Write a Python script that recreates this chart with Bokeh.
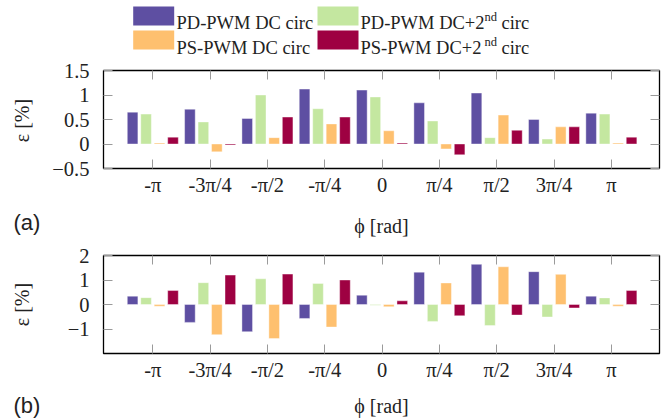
from math import pi
from bokeh.plotting import figure
from bokeh.models import (ColumnDataSource, Range1d, FixedTicker, LinearAxis,
                          CustomJSTickFormatter)
from bokeh.transform import dodge
from bokeh.layouts import column, row
from bokeh.core.properties import value
from bokeh.embed import file_html
from bokeh.resources import INLINE

# ---------------- data ----------------
phi_labels = ["-π", "-3π/4", "-π/2", "-π/4", "0", "π/4", "π/2", "3π/4", "π"]
series_names = ["PD-PWM DC circ", "PD-PWM DC+2nd circ", "PS-PWM DC circ", "PS-PWM DC+2nd circ"]
colors = ["#5e4fa2", "#c4e7a0", "#fec06f", "#9e0142"]

# (a)
a_pd_dc = [0.65, 0.71, 0.52, 1.12, 1.10, 0.84, 1.04, 0.50, 0.63]
a_pd_dc2 = [0.61, 0.45, 1.00, 0.72, 0.96, 0.47, 0.13, 0.10, 0.61]
a_ps_dc = [0.02, -0.16, 0.13, 0.41, 0.27, -0.10, 0.59, 0.35, 0.02]
a_ps_dc2 = [0.14, -0.02, 0.55, 0.55, 0.02, -0.22, 0.28, 0.35, 0.14]

# (b)
b_pd_dc = [0.34, -0.73, -1.11, -0.57, 0.38, 1.32, 1.64, 1.34, 0.34]
b_pd_dc2 = [0.28, 0.89, 1.05, 0.86, -0.03, -0.69, -0.86, -0.51, 0.27]
b_ps_dc = [-0.07, -1.23, -1.39, -0.92, -0.09, 0.88, 1.54, 1.23, -0.07]
b_ps_dc2 = [0.57, 1.20, 1.24, 1.00, 0.15, -0.46, -0.43, -0.14, 0.57]

a_ticks = [-0.5, 0, 0.5, 1, 1.5]
a_tick_labels = ["−0.5", "0", "0.5", "1", "1.5"]
b_ticks = [-1, 0, 1, 2]
b_tick_labels = ["−1", "0", "1", "2"]

x_label = "ϕ [rad]"
y_label = "ε [%]"
panel_tags = ["(a)", "(b)"]

SERIF = "Liberation Serif"
SANS = "Liberation Sans"
TXT = "#222222"
STRIP_W = 43
COL_W = 622
LEG_H = 58
offsets = [-0.3525, -0.1175, 0.1175, 0.3525]
bar_w = 0.185
BLANK = CustomJSTickFormatter(code="return ''")


def make_panel(series, yr, ticks, tick_labels, height, top_border, bottom_border, label_standoff):
    xs = list(range(len(phi_labels)))
    data = dict(x=xs)
    for i, s in enumerate(series):
        data["s%d" % i] = s
    src = ColumnDataSource(data)
    p = figure(width=COL_W, height=height, output_backend="svg", toolbar_location=None,
               x_range=Range1d(-0.86, 8.84), y_range=Range1d(*yr),
               min_border_left=60, min_border_right=6, min_border_top=top_border,
               min_border_bottom=bottom_border, background_fill_color="white",
               border_fill_color="white")
    p.grid.visible = False
    p.outline_line_color = "black"
    p.outline_line_width = 1.3
    for i in range(4):
        p.vbar(x=dodge("x", offsets[i]), top="s%d" % i, bottom=0, width=bar_w,
               source=src, fill_color=colors[i], line_color="white",
               line_alpha=0.5, line_width=0.8)
    xa = p.xaxis[0]
    xa.ticker = FixedTicker(ticks=xs)
    xa.major_label_overrides = {x: l for x, l in zip(xs, phi_labels)}
    ya = p.yaxis[0]
    ya.ticker = FixedTicker(ticks=ticks)
    ya.major_label_overrides = {t: l for t, l in zip(ticks, tick_labels)}
    for ax in (xa, ya):
        ax.axis_line_color = None
        ax.major_tick_in = 9
        ax.major_tick_out = 0
        ax.minor_tick_line_color = None
        ax.major_tick_line_color = "#9a9a9a"
        ax.major_label_text_font = SERIF
        ax.major_label_text_font_size = "20.5px"
        ax.major_label_text_color = TXT
    xa.major_label_standoff = 5
    ya.major_label_standoff = 14
    xa.axis_label = x_label
    xa.axis_label_text_font = SERIF
    xa.axis_label_text_font_size = "20px"
    xa.axis_label_text_font_style = "normal"
    xa.axis_label_text_color = TXT
    xa.axis_label_standoff = label_standoff
    # mirrored ticks (top / right), no labels
    top_ax = LinearAxis(ticker=FixedTicker(ticks=xs), formatter=BLANK)
    right_ax = LinearAxis(ticker=FixedTicker(ticks=ticks), formatter=BLANK)
    for ax in (top_ax, right_ax):
        ax.axis_line_color = None
        ax.major_tick_in = 9
        ax.major_tick_out = 0
        ax.minor_tick_line_color = None
        ax.major_tick_line_color = "#9a9a9a"
        ax.major_label_standoff = 0
    p.add_layout(top_ax, "above")
    p.add_layout(right_ax, "right")
    return p


# ---------------- legend ----------------
lg = figure(width=COL_W, height=LEG_H, output_backend="svg", toolbar_location=None,
            x_range=Range1d(103, 659), y_range=Range1d(LEG_H, 0),
            x_axis_type=None, y_axis_type=None, min_border_left=60, min_border_right=6,
            min_border_top=0, min_border_bottom=0)
lg.grid.visible = False
lg.outline_line_color = None
sw_left = [132.7, 317, 132.7, 317]
sw_top = [6, 6, 30, 30]
lg_src = ColumnDataSource(dict(
    left=sw_left, right=[l + 41 for l in sw_left], top=sw_top,
    bottom=[t + 19 for t in sw_top], color=[colors[0], colors[1], colors[2], colors[3]]))
lg.quad(left="left", right="right", top="top", bottom="bottom", fill_color="color",
        line_color=None, source=lg_src)
base = [22.7, 22.7, 47.3, 47.3]
tx = [176, 360, 176, 360]
main_txt = ["PD-PWM DC circ", "PD-PWM DC+2", "PS-PWM DC circ", "PS-PWM DC+2"]
lg.text(x=tx, y=base, text=main_txt, text_font=value(SERIF), text_font_size="18.5px",
        text_baseline="alphabetic", text_align="left", text_color=TXT)
lg.text(x=[484, 484], y=[base[1] - 6, base[3] - 6], text=["nd", "nd"], text_font=value(SERIF),
        text_font_size="12.5px", text_baseline="alphabetic", text_align="left", text_color=TXT)
lg.text(x=[501, 501], y=[base[1], base[3]], text=["circ", "circ"], text_font=value(SERIF),
        text_font_size="18.5px", text_baseline="alphabetic", text_align="left", text_color=TXT)

pa = make_panel([a_pd_dc, a_pd_dc2, a_ps_dc, a_ps_dc2], (-0.5, 1.5), a_ticks, a_tick_labels,
                182, 12, 72, 16)
pb = make_panel([b_pd_dc, b_pd_dc2, b_ps_dc, b_ps_dc2], (-2, 2), b_ticks, b_tick_labels,
                179, 15, 66, 11)

# ---------------- left strip (y labels and panel tags) ----------------
st = figure(width=STRIP_W, height=419, output_backend="svg", toolbar_location=None,
            x_range=Range1d(0, STRIP_W), y_range=Range1d(419, 0),
            x_axis_type=None, y_axis_type=None, min_border=0)
st.grid.visible = False
st.outline_line_color = None
st.text(x=[21.5, 21.5], y=[120, 304], text=[y_label, y_label], angle=pi / 2,
        text_font=value(SERIF), text_font_size="20px", text_align="center",
        text_baseline="middle", text_color=TXT)
st.text(x=[13, 13], y=[222, 405], text=panel_tags, text_font=value(SANS),
        text_font_size="22px", text_align="left", text_baseline="middle", text_color=TXT)

layout = row(st, column(lg, pa, pb, spacing=0), spacing=0)
open("out.html", "w").write(file_html(layout, INLINE))
